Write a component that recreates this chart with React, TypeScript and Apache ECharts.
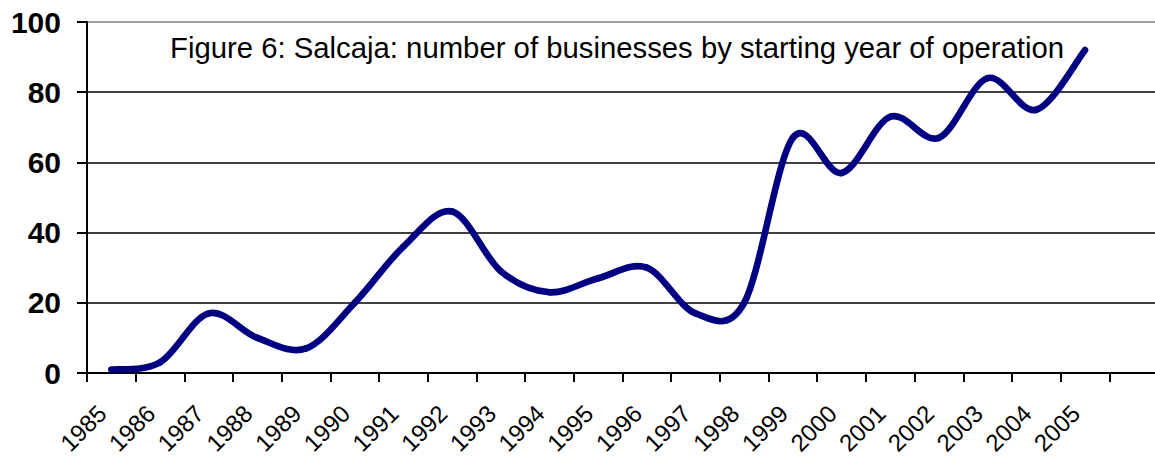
import React, { useEffect, useRef } from "react";
import * as echarts from "echarts";

const years = [
  "1985", "1986", "1987", "1988", "1989", "1990", "1991", "1992", "1993", "1994", "1995",
  "1996", "1997", "1998", "1999", "2000", "2001", "2002", "2003", "2004", "2005", "",
];
const businesses = [1, 3, 17, 10, 7, 20, 36, 46, 29, 23, 27, 30, 17, 20, 67, 57, 73, 67, 84, 75, 92];
const yTicks = { min: 0, max: 100, interval: 20 };
const titleText = "Figure 6: Salcaja: number of businesses by starting year of operation";

export default function App() {
  const ref = useRef<HTMLDivElement>(null);
  useEffect(() => {
    if (!ref.current) return;
    const chart = echarts.init(ref.current, undefined, { renderer: "svg" });
    const font = "'Liberation Sans', Arial, sans-serif";
    const lineStyle = { stroke: "#000080", lineWidth: 6.6, lineCap: "round", lineJoin: "round", fill: null };
    chart.setOption({
      animation: false,
      backgroundColor: "#ffffff",
      grid: {
        left: 87,
        top: 22,
        bottom: 84,
        right: -3,
        show: false,
        containLabel: false,
        outerBoundsMode: "none",
      },
      graphic: [
        {
          type: "text",
          left: 170,
          top: 33,
          style: { text: titleText, font: `29.3px ${font}`, fill: "#000" },
          z: 10,
        },
      ],
      xAxis: {
        type: "category",
        data: years,
        boundaryGap: true,
        axisLine: { lineStyle: { color: "#000", width: 2 } },
        axisTick: { show: true, length: 9, lineStyle: { color: "#000", width: 2 }, interval: 0 },
        axisLabel: {
          interval: 0,
          rotate: 45,
          margin: 27,
          padding: [0, 13, 0, 0],
          fontSize: 24,
          lineHeight: 22,
          fontFamily: font,
          color: "#000",
        },
        splitLine: { show: false },
      },
      yAxis: {
        type: "value",
        min: yTicks.min,
        max: yTicks.max,
        interval: yTicks.interval,
        axisLine: { show: true, lineStyle: { color: "#000", width: 2 } },
        axisTick: { show: true, length: 10, lineStyle: { color: "#000", width: 2 } },
        axisLabel: {
          margin: 26,
          fontSize: 30,
          fontWeight: "bold",
          fontFamily: font,
          color: "#000",
        },
        splitLine: {
          show: true,
          lineStyle: { color: ["#000", "#000", "#000", "#000", "#000", "#808080"], width: 1.5 },
        },
      },
      series: [
        {
          type: "custom",
          data: businesses.map((v, i) => [i, v]),
          clip: false,
          renderItem: (params: any, api: any) => {
            if (params.dataIndex !== 0) return null;
            const pts = businesses.map((v, i) => api.coord([i, v]));
            const n = pts.length;
            const children: any[] = [];
            for (let i = 0; i < n - 1; i++) {
              const p0 = pts[Math.max(0, i - 1)];
              const p1 = pts[i];
              const p2 = pts[i + 1];
              const p3 = pts[Math.min(n - 1, i + 2)];
              children.push({
                type: "bezierCurve",
                shape: {
                  x1: p1[0],
                  y1: p1[1],
                  cpx1: p1[0] + (p2[0] - p0[0]) / 6,
                  cpy1: p1[1] + (p2[1] - p0[1]) / 6,
                  cpx2: p2[0] - (p3[0] - p1[0]) / 6,
                  cpy2: p2[1] - (p3[1] - p1[1]) / 6,
                  x2: p2[0],
                  y2: p2[1],
                },
                style: lineStyle,
              });
            }
            return { type: "group", children };
          },
        },
      ],
    });
    return () => chart.dispose();
  }, []);
  return (
    <div
      ref={ref}
      style={{ position: "absolute", left: 0, top: 0, width: 1155, height: 457 }}
    />
  );
}
